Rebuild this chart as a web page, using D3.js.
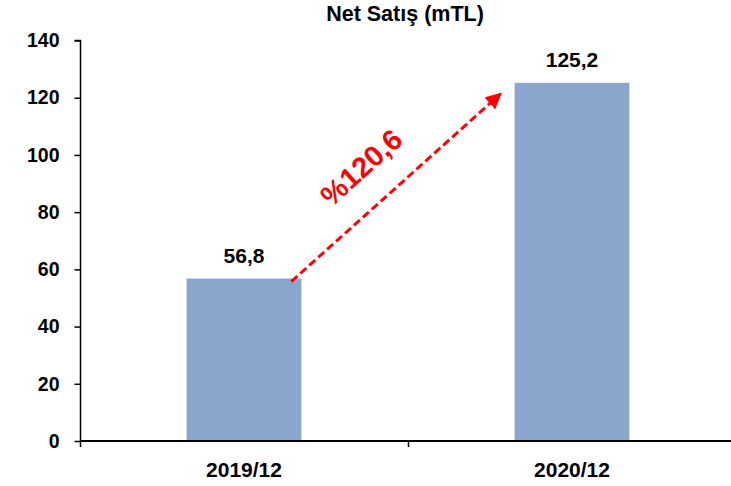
<!DOCTYPE html>
<html>
<head>
<meta charset="utf-8">
<script src="https://cdn.jsdelivr.net/npm/d3@7"></script>
<style>
  body { margin: 0; background: #fff; }
  text { font-family: "Liberation Sans", Arial, sans-serif; font-weight: bold; }
</style>
</head>
<body>
<div id="chart"></div>
<script>
const categories = ['2019/12', '2020/12'];
const values = [56.8, 125.2];
const valueLabels = ['56,8', '125,2'];
const yTicks = [0, 20, 40, 60, 80, 100, 120, 140];
const title = 'Net Satış (mTL)';
const growthLabel = '%120,6';

const width = 731;
const height = 486;

const svg = d3
  .select('#chart')
  .append('svg')
  .attr('width', width)
  .attr('height', height);

const x = d3
  .scaleBand()
  .domain(categories)
  .range([80, 736])
  .paddingInner(0.65)
  .paddingOuter(0.325);

const y = d3.scaleLinear().domain([0, 140]).range([441, 40.5]);

// bars
svg
  .append('g')
  .selectAll('rect')
  .data(values)
  .enter()
  .append('rect')
  .attr('x', (d, i) => x(categories[i]))
  .attr('width', x.bandwidth())
  .attr('y', (d) => y(d))
  .attr('height', (d) => y(0) - y(d))
  .attr('fill', '#8aa6cc');

// y axis
const yAxis = svg
  .append('g')
  .attr('transform', 'translate(80.5,0)')
  .call(d3.axisLeft(y).tickValues(yTicks).tickSize(6).tickPadding(15));
yAxis.selectAll('path,line').attr('stroke', '#000').attr('stroke-width', 1.5);
yAxis.select('.domain').attr('d', `M-6,${y(140)}H0V${y(0)}`);
yAxis.selectAll('text').attr('font-size', 19.5).attr('fill', '#000');

// x axis, ticks at band boundaries
svg
  .append('line')
  .attr('x1', 80)
  .attr('x2', 731)
  .attr('y1', y(0))
  .attr('y2', y(0))
  .attr('stroke', '#000')
  .attr('stroke-width', 2);

const step = x.step();
const bounds = [80, 80 + step, 80 + 2 * step];
svg
  .append('g')
  .selectAll('line')
  .data(bounds)
  .enter()
  .append('line')
  .attr('x1', (d) => d + 0.5)
  .attr('x2', (d) => d + 0.5)
  .attr('y1', y(0))
  .attr('y2', y(0) + 6)
  .attr('stroke', '#000')
  .attr('stroke-width', 1.5);

svg
  .append('g')
  .selectAll('text')
  .data(categories)
  .enter()
  .append('text')
  .attr('x', (d) => x(d) + x.bandwidth() / 2)
  .attr('y', 477)
  .attr('text-anchor', 'middle')
  .attr('font-size', 21)
  .text((d) => d);

// value labels
svg
  .append('g')
  .selectAll('text')
  .data(values)
  .enter()
  .append('text')
  .attr('x', (d, i) => x(categories[i]) + x.bandwidth() / 2)
  .attr('y', (d) => y(d) - 16)
  .attr('text-anchor', 'middle')
  .attr('font-size', 21)
  .text((d, i) => valueLabels[i]);

// title
svg
  .append('text')
  .attr('x', 405)
  .attr('y', 21)
  .attr('text-anchor', 'middle')
  .attr('font-size', 21.5)
  .text(title);

// growth arrow
svg
  .append('defs')
  .append('marker')
  .attr('id', 'head')
  .attr('viewBox', '0 0 10 10')
  .attr('refX', 9)
  .attr('refY', 5)
  .attr('markerUnits', 'userSpaceOnUse')
  .attr('markerWidth', 16)
  .attr('markerHeight', 16)
  .attr('orient', 'auto')
  .append('path')
  .attr('d', 'M0,0L10,5L0,10Z')
  .attr('fill', '#ff0000');

const x0 = x(categories[0]) + x.bandwidth() - 10;
const y0 = y(values[0]) + 3;
const x1 = x(categories[1]) - 14;
const y1 = y(values[1]) + 11;

svg
  .append('line')
  .attr('x1', x0)
  .attr('y1', y0)
  .attr('x2', x1)
  .attr('y2', y1)
  .attr('stroke', '#ff0000')
  .attr('stroke-width', 3)
  .attr('stroke-dasharray', '8,4')
  .attr('marker-end', 'url(#head)');

const ang = (Math.atan2(y1 - y0, x1 - x0) * 180) / Math.PI;
svg
  .append('text')
  .attr('transform', `translate(368,175) rotate(${ang})`)
  .attr('text-anchor', 'middle')
  .attr('font-size', 29)
  .attr('fill', '#ff0000')
  .text(growthLabel);
</script>
</body>
</html>
